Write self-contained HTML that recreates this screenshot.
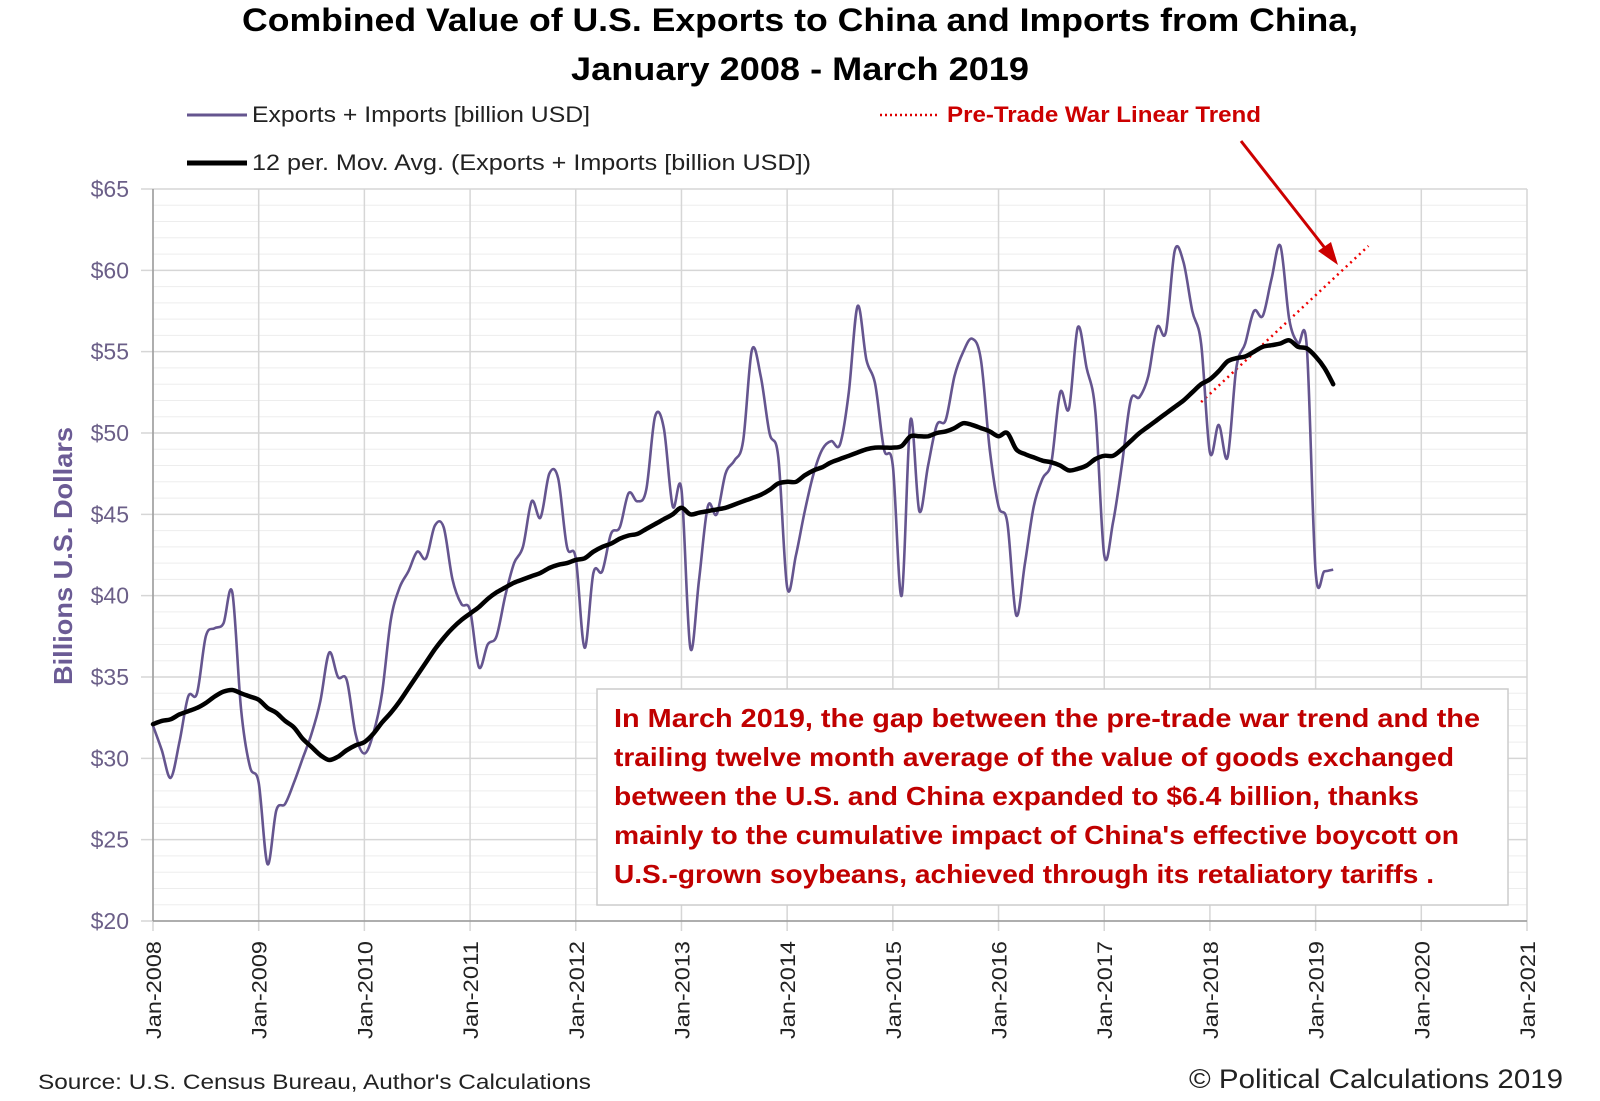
<!DOCTYPE html>
<html><head><meta charset="utf-8"><style>
html,body{margin:0;padding:0;background:#fff;}
svg{display:block;font-family:"Liberation Sans",sans-serif;}
</style></head><body>
<svg id="chart" width="1600" height="1101" viewBox="0 0 1600 1101" xmlns="http://www.w3.org/2000/svg">
<text x="800" y="31" text-anchor="middle" font-size="32" font-weight="bold" fill="#000" textLength="1116" lengthAdjust="spacingAndGlyphs">Combined Value of U.S. Exports to China and Imports from China,</text>
<text x="800" y="80" text-anchor="middle" font-size="32" font-weight="bold" fill="#000" textLength="458" lengthAdjust="spacingAndGlyphs">January 2008 - March 2019</text>
<g>
<line x1="187" y1="115" x2="247" y2="115" stroke="#65558f" stroke-width="3"/>
<text x="252" y="122" font-size="22" fill="#222" textLength="338" lengthAdjust="spacingAndGlyphs">Exports + Imports [billion USD]</text>
<line x1="187" y1="163" x2="247" y2="163" stroke="#000" stroke-width="5"/>
<text x="252" y="170" font-size="22" fill="#222" textLength="559" lengthAdjust="spacingAndGlyphs">12 per. Mov. Avg. (Exports + Imports [billion USD])</text>
<line x1="880" y1="115" x2="939" y2="115" stroke="#d00" stroke-width="2.5" stroke-dasharray="2,3"/>
<text x="947" y="122" font-size="22" font-weight="bold" fill="#c00" textLength="314" lengthAdjust="spacingAndGlyphs">Pre-Trade War Linear Trend</text>
</g>
<g id="grid"></g>
<g id="axes"></g>
<g id="series"></g>
<text transform="translate(72,556) rotate(-90)" text-anchor="middle" font-size="26" font-weight="bold" fill="#6b5b95" textLength="258" lengthAdjust="spacingAndGlyphs">Billions U.S. Dollars</text>
<g>
<rect x="597" y="689" width="911" height="216" fill="#fff" stroke="#ccc" stroke-width="1.5"/>
<g font-size="26" font-weight="bold" fill="#c00000">
<text x="614" y="727" textLength="866" lengthAdjust="spacingAndGlyphs">In March 2019, the gap between the pre-trade war trend and the</text>
<text x="614" y="766" textLength="840" lengthAdjust="spacingAndGlyphs">trailing twelve month average of the value of goods exchanged</text>
<text x="614" y="805" textLength="805" lengthAdjust="spacingAndGlyphs">between the U.S. and China expanded to $6.4 billion, thanks</text>
<text x="614" y="844" textLength="845" lengthAdjust="spacingAndGlyphs">mainly to the cumulative impact of China's effective boycott on</text>
<text x="614" y="883" textLength="820" lengthAdjust="spacingAndGlyphs">U.S.-grown soybeans, achieved through its retaliatory tariffs .</text>
</g></g>
<g>
<line x1="1241" y1="141" x2="1328" y2="252" stroke="#c00" stroke-width="3"/>
<polygon points="1338,265 1318,251 1331,242" fill="#c00"/>
</g>
<text x="38" y="1089" font-size="21" fill="#222" textLength="553" lengthAdjust="spacingAndGlyphs">Source: U.S. Census Bureau, Author's Calculations</text>
<text x="1563" y="1088" text-anchor="end" font-size="27" fill="#222" textLength="374" lengthAdjust="spacingAndGlyphs">© Political Calculations 2019</text>
</svg>
<script>
const startYear = 2008;
const raw = [
32,30.5,28.8,31,33.8,34,37.5,38,38.3,40.2,33,29.5,
28.5,23.5,26.8,27.2,28.5,30,31.5,33.5,36.5,35,34.8,31.5,
30.3,31.5,34,38.5,40.5,41.5,42.7,42.3,44.3,44.2,41,39.5,
39.1,35.6,37,37.5,40,42,43,45.8,44.8,47.5,47.2,43,
42.3,36.8,41.4,41.5,43.8,44.2,46.3,45.8,46.5,51,50.3,45.5,
46.5,36.8,41,45.5,45,47.5,48.3,49.5,55.1,53.5,50,48.5,
40.5,42.5,45.2,47.5,49,49.5,49.3,52.5,57.8,54.5,53,49,
48,40,50.8,45.2,48,50.5,50.8,53.5,55,55.8,54.5,49,
45.5,44.5,38.8,42,45.5,47.2,48.2,52.5,51.5,56.5,54,51.3,
42.5,44.5,48,52,52.2,53.5,56.5,56.2,61.2,60.5,57.5,55.5,
48.8,50.5,48.5,54,55.5,57.5,57.2,59.5,61.5,57,55.5,55.3,
41.5,41.5,41.6];
const movAvg = [
32.1,32.3,32.4,32.7,32.9,33.1,33.4,33.8,34.1,34.2,34.0,33.8,
33.6,33.1,32.8,32.3,31.9,31.2,30.7,30.2,29.9,30.1,30.5,30.8,
31,31.5,32.2,32.8,33.5,34.3,35.1,35.9,36.7,37.4,38.0,38.5,
38.9,39.3,39.8,40.2,40.5,40.8,41.0,41.2,41.4,41.7,41.9,42.0,
42.2,42.3,42.7,43.0,43.2,43.5,43.7,43.8,44.1,44.4,44.7,45.0,
45.4,45.0,45.1,45.2,45.3,45.4,45.6,45.8,46.0,46.2,46.5,46.9,
47.0,47.0,47.4,47.7,47.9,48.2,48.4,48.6,48.8,49.0,49.1,49.1,
49.1,49.2,49.8,49.8,49.8,50.0,50.1,50.3,50.6,50.5,50.3,50.1,
49.8,50.0,49.0,48.7,48.5,48.3,48.2,48.0,47.7,47.8,48.0,48.4,
48.6,48.6,49.0,49.5,50.0,50.4,50.8,51.2,51.6,52.0,52.5,53.0,
53.3,53.8,54.4,54.6,54.7,55.0,55.3,55.4,55.5,55.7,55.3,55.2,
54.7,54.0,53.0];
const trendMonths = [119, 138];
const trendValues = [51.9, 61.5];
const yTicks = [20,25,30,35,40,45,50,55,60,65];
const yTickLabels = ["$20","$25","$30","$35","$40","$45","$50","$55","$60","$65"];
const xTickYears = [2008,2009,2010,2011,2012,2013,2014,2015,2016,2017,2018,2019,2020,2021];

const X0=153, X1=1527, Y0=921, Y1=189, YMIN=20, YMAX=65;
const xScale = m => X0 + m/156*(X1-X0);
const yScale = v => Y0 - (v-YMIN)/(YMAX-YMIN)*(Y0-Y1);
const NS="http://www.w3.org/2000/svg";
function mk(tag, attrs, parent){const e=document.createElementNS(NS,tag);for(const k in attrs)e.setAttribute(k,attrs[k]);parent.appendChild(e);return e;}
const grid=document.getElementById('grid'), axes=document.getElementById('axes'), series=document.getElementById('series');
for(let v=YMIN; v<=YMAX; v++){
  if(v%5===0) continue;
  const l=mk('line',{x1:X0,x2:X1,y1:yScale(v),y2:yScale(v),stroke:'#ededed','stroke-width':1},grid);
  
  
}
yTicks.forEach((v,i)=>{
  const l=mk('line',{x1:X0-12,x2:X1,y1:yScale(v),y2:yScale(v),stroke:'#d6d6d6','stroke-width':1.5},grid);
  
  
  const t=mk('text',{x:129,y:yScale(v)+8,'text-anchor':'end','font-size':23,fill:'#6b5f88'},axes);
  t.textContent=yTickLabels[i];
  
  
});
xTickYears.forEach(yr=>{
  const x=xScale((yr-startYear)*12);
  const l=mk('line',{x1:x,x2:x,y1:Y1,y2:Y0+10,stroke:'#d6d6d6','stroke-width':1.5},grid);
  
  
  const t=mk('text',{transform:`translate(${x+8},${Y0+20}) rotate(-90)`,'text-anchor':'end','font-size':21,fill:'#222',textLength:98,lengthAdjust:'spacingAndGlyphs'},axes);
  t.textContent='Jan-'+yr;
  
  
});
const ax=mk('line',{x1:X0,x2:X0,y1:Y1,y2:Y0,stroke:'#999','stroke-width':1.5},axes);


const bx=mk('line',{x1:X0,x2:X1,y1:Y0,y2:Y0,stroke:'#999','stroke-width':1.5},axes);



function smoothPath(arr){
  const p=arr.map((v,i)=>[xScale(i),yScale(v)]);
  let d='M'+p[0][0].toFixed(1)+','+p[0][1].toFixed(1);
  const t=0.25;
  for(let i=0;i<p.length-1;i++){
    const a=p[Math.max(i-1,0)], b=p[i], c=p[i+1], e=p[Math.min(i+2,p.length-1)];
    const c1=[b[0]+(c[0]-a[0])*t/1.5, b[1]+(c[1]-a[1])*t/1.5];
    const c2=[c[0]-(e[0]-b[0])*t/1.5, c[1]-(e[1]-b[1])*t/1.5];
    d+=' C'+c1[0].toFixed(1)+','+c1[1].toFixed(1)+' '+c2[0].toFixed(1)+','+c2[1].toFixed(1)+' '+c[0].toFixed(1)+','+c[1].toFixed(1);
  }
  return d;
}
const tr=mk('line',{x1:xScale(trendMonths[0]),y1:yScale(trendValues[0]),x2:xScale(trendMonths[1]),y2:yScale(trendValues[1]),stroke:'#e00','stroke-width':2.5,'stroke-dasharray':'2,4'},series);


const p1=mk('path',{d:smoothPath(raw),fill:'none',stroke:'#65558f','stroke-width':2.6,'stroke-linejoin':'round'},series);


const p2=mk('path',{d:smoothPath(movAvg),fill:'none',stroke:'#000','stroke-width':4.5,'stroke-linejoin':'round','stroke-linecap':'round'},series);


</script>
</body></html>
